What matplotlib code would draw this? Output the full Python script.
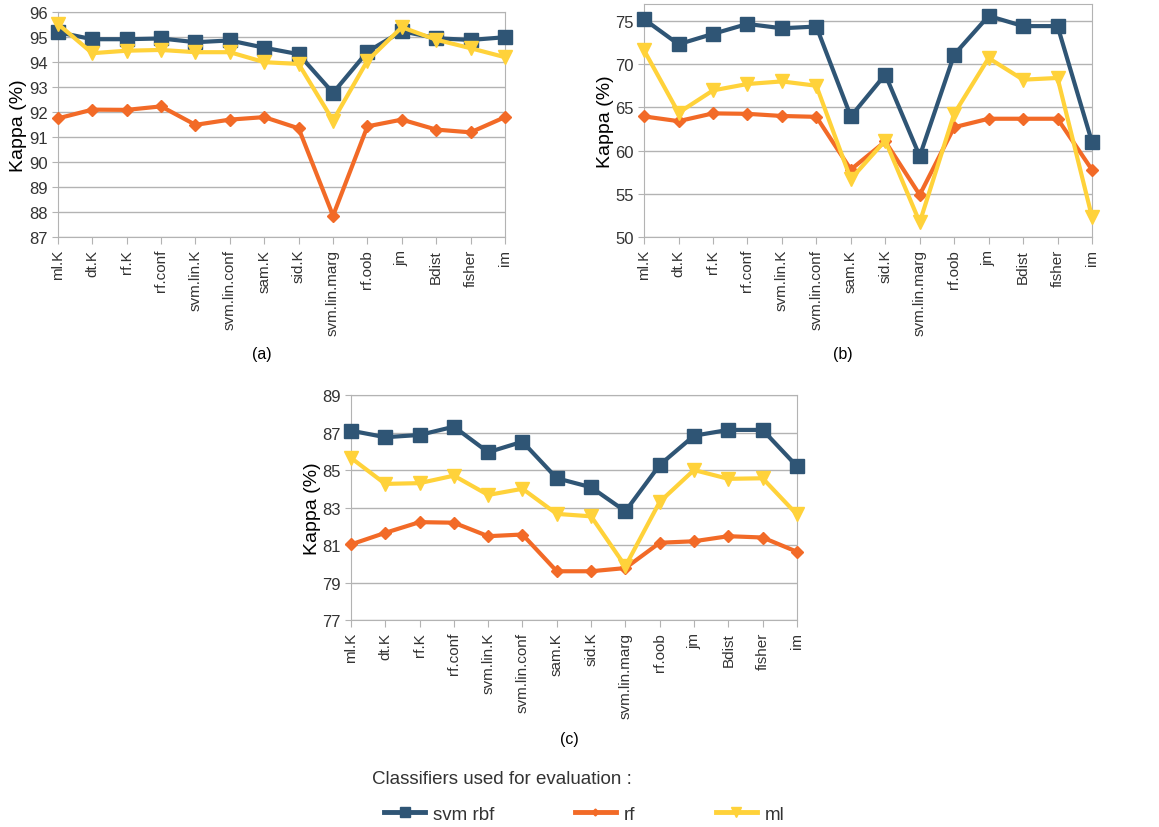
import matplotlib
matplotlib.use("Agg")
import matplotlib.pyplot as plt

plt.rcParams['font.family'] = ['Liberation Sans', 'DejaVu Sans']

classifiers = ['ml.K', 'dt.K', 'rf.K', 'rf.conf', 'svm.lin.K', 'svm.lin.conf', 'sam.K',
               'sid.K', 'svm.lin.marg', 'rf.oob', 'jm', 'Bdist', 'fisher', 'im']

# panel (a)
a_svm = [95.2, 94.92, 94.92, 94.95, 94.8, 94.87, 94.58, 94.32, 92.77, 94.42, 95.24, 94.96, 94.89, 95.0]
a_rf = [91.75, 92.1, 92.09, 92.23, 91.49, 91.7, 91.8, 91.35, 87.85, 91.43, 91.7, 91.3, 91.19, 91.8]
a_ml = [95.53, 94.36, 94.46, 94.49, 94.4, 94.4, 94.0, 93.93, 91.66, 94.06, 95.4, 94.9, 94.56, 94.2]

# panel (b)
b_svm = [75.2, 72.3, 73.5, 74.65, 74.15, 74.35, 63.95, 68.8, 59.35, 71.1, 75.58, 74.4, 74.4, 60.97]
b_rf = [63.95, 63.4, 64.3, 64.25, 64.0, 63.9, 57.8, 61.05, 54.87, 62.7, 63.68, 63.68, 63.68, 57.77]
b_ml = [71.6, 64.37, 66.96, 67.7, 68.0, 67.5, 56.7, 61.16, 51.7, 64.26, 70.7, 68.2, 68.4, 52.3]

# panel (c)
c_svm = [87.1, 86.75, 86.87, 87.31, 85.95, 86.51, 84.56, 84.08, 82.8, 85.27, 86.83, 87.14, 87.14, 85.2]
c_rf = [81.03, 81.65, 82.22, 82.19, 81.47, 81.56, 79.6, 79.6, 79.77, 81.12, 81.2, 81.47, 81.4, 80.64]
c_ml = [85.65, 84.26, 84.3, 84.7, 83.67, 84.0, 82.66, 82.53, 79.87, 83.3, 85.0, 84.53, 84.56, 82.63]

series_names = ['svm rbf', 'rf', 'ml']
colors = ['#2F5575', '#F26A27', '#FFD23A']
markers = ['s', 'D', 'v']
msizes = [10, 6.5, 10]

fig = plt.figure(figsize=(11.59, 8.28), dpi=100)


def draw_panel(rect, data, ylim, yticks, caption, cap_xy):
    ax = fig.add_axes(rect)
    x = list(range(len(classifiers)))
    for i in [1, 2, 0]:
        ax.plot(x, data[i], color=colors[i], marker=markers[i], markersize=msizes[i],
                linewidth=3, clip_on=False, zorder=3 + i * 0.1)
    ax.set_xlim(0, len(classifiers) - 1)
    ax.set_ylim(*ylim)
    ax.set_yticks(yticks)
    ax.set_xticks(x)
    ax.set_xticklabels(classifiers, rotation=90, fontsize=11, color='#333333')
    ax.tick_params(axis='y', labelsize=12, colors='#333333', length=4, color='#b3b3b3')
    ax.tick_params(axis='x', length=5, color='#b3b3b3')
    ax.grid(axis='y', color='#b3b3b3', linewidth=1)
    ax.set_axisbelow(True)
    for s in ax.spines.values():
        s.set_color('#b3b3b3')
    ax.set_ylabel('Kappa (%)', fontsize=14, color='black', labelpad=1)
    fig.text(cap_xy[0], cap_xy[1], caption, fontsize=11.5, ha='center', va='center')
    return ax


draw_panel([0.050, 0.7126, 0.3857, 0.2714], [a_svm, a_rf, a_ml], (87, 96),
           range(87, 97), '(a)', (262 / 1159, 1 - 355 / 828))
draw_panel([0.5557, 0.7126, 0.3865, 0.2818], [b_svm, b_rf, b_ml], (50, 77),
           range(50, 76, 5), '(b)', (843 / 1159, 1 - 355 / 828))
draw_panel([0.3028, 0.25, 0.3848, 0.2717], [c_svm, c_rf, c_ml], (77, 89),
           range(77, 90, 2), '(c)', (569 / 1159, 1 - 740 / 828))

handles = [plt.Line2D([], [], color=colors[i], marker=markers[i], markersize=msizes[i] - 3,
                      linewidth=3.5) for i in range(3)]
fig.text(372 / 1159, 1 - 780 / 828, 'Classifiers used for evaluation :', fontsize=13.5,
         color='#333333', ha='left', va='center')
fig.legend(handles, series_names, loc='center left', bbox_to_anchor=(384 / 1159, 1 - 815 / 828),
           ncol=3, frameon=False, fontsize=13.5, handlelength=2.2, columnspacing=4.3,
           handletextpad=0.4, borderaxespad=0, borderpad=0, labelcolor='#333333')

fig.savefig('out.png', dpi=100)
